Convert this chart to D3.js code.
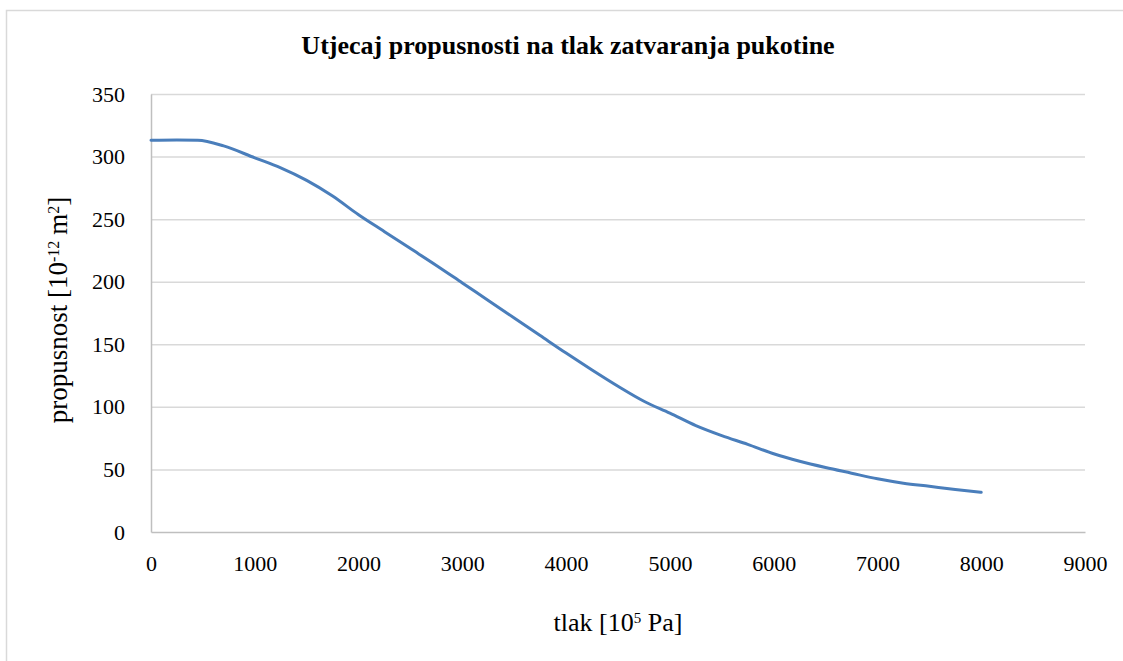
<!DOCTYPE html>
<html>
<head>
<meta charset="utf-8">
<script src="https://cdn.jsdelivr.net/npm/d3@7"></script>
<style>
  body { margin: 0; background: #fff; }
  text { font-family: "Liberation Serif", "Times New Roman", serif; fill: #000; }
</style>
</head>
<body>
<div id="container"></div>
<script>
/* CONSTANTS AND GLOBALS */
const width = 1123,
  height = 661,
  margin = { top: 94, bottom: 129, left: 151, right: 38 };

// tlak [10^5 Pa]
const pressure = [0, 250, 450, 700, 1000, 1250, 1500, 1750, 2000, 2250, 2500, 2750,
  3000, 3250, 3500, 3750, 4000, 4250, 4500, 4750, 5000, 5250, 5500, 5750,
  6000, 6250, 6500, 6750, 7000, 7250, 7500, 7750, 8000];
// propusnost [10^-12 m^2]
const permeability = [313, 313.2, 313, 308.5, 299, 291, 281, 268.5, 253.5, 240, 226.5, 213,
  199, 185, 171, 157, 143, 129.5, 116.5, 104.5, 95, 85, 77, 70,
  62.5, 56.5, 51.5, 47, 42.5, 39, 36.5, 34, 31.7];

const xTicks = [0, 1000, 2000, 3000, 4000, 5000, 6000, 7000, 8000, 9000];
const yTicks = [0, 50, 100, 150, 200, 250, 300, 350];

const data = pressure.map((p, i) => ({ x: p, y: permeability[i] }));

// APPEND SVG
const svg = d3.select("#container")
  .append("svg")
  .attr("width", width)
  .attr("height", height);

// outer chart frame
svg.append("rect")
  .attr("x", 6.5)
  .attr("y", 10.5)
  .attr("width", 1140)
  .attr("height", 700)
  .attr("fill", "none")
  .attr("stroke", "#d9d9d9")
  .attr("stroke-width", 1.5);

// SCALES
const xScale = d3.scaleLinear()
  .domain([0, 9000])
  .range([margin.left, width - margin.right]);

const yScale = d3.scaleLinear()
  .domain([0, 350])
  .range([height - margin.bottom, margin.top]);

// gridlines
svg.append("g")
  .attr("class", "grid")
  .attr("transform", `translate(${margin.left},0)`)
  .call(d3.axisLeft(yScale).tickValues(yTicks.filter(d => d > 0))
    .tickSize(-(width - margin.left - margin.right)).tickFormat(""))
  .call(g => g.select(".domain").remove())
  .call(g => g.selectAll("line").attr("stroke", "#d9d9d9").attr("stroke-width", 1.5));

// Y AXIS
svg.append("g")
  .attr("transform", `translate(${margin.left},0)`)
  .call(d3.axisLeft(yScale).tickValues(yTicks).tickSize(0).tickPadding(26))
  .call(g => g.select(".domain").attr("stroke", "#bfbfbf").attr("stroke-width", 1.5))
  .call(g => g.selectAll("text").attr("font-size", 22).attr("font-family", "Liberation Serif"));

// X AXIS
svg.append("g")
  .attr("transform", `translate(0,${height - margin.bottom})`)
  .call(d3.axisBottom(xScale).tickValues(xTicks).tickFormat(d3.format("d"))
    .tickSize(0).tickPadding(23))
  .call(g => g.select(".domain").attr("stroke", "#bfbfbf").attr("stroke-width", 1.5))
  .call(g => g.selectAll("text").attr("font-size", 22).attr("font-family", "Liberation Serif"));

// LINE
const lineGen = d3.line()
  .x(d => xScale(d.x))
  .y(d => yScale(d.y))
  .curve(d3.curveMonotoneX);

svg.append("path")
  .datum(data)
  .attr("d", lineGen)
  .attr("fill", "none")
  .attr("stroke", "#4a7ebb")
  .attr("stroke-width", 3)
  .attr("stroke-linecap", "round");

// TITLE
svg.append("text")
  .attr("x", 568)
  .attr("y", 54)
  .attr("text-anchor", "middle")
  .attr("font-size", 26)
  .attr("font-weight", "bold")
  .text("Utjecaj propusnosti na tlak zatvaranja pukotine");

// X AXIS TITLE
const xTitle = svg.append("text")
  .attr("x", 618)
  .attr("y", 631)
  .attr("text-anchor", "middle")
  .attr("font-size", 26);
xTitle.append("tspan").text("tlak [10");
xTitle.append("tspan").attr("font-size", 15).attr("baseline-shift", "super").text("5");
xTitle.append("tspan").text(" Pa]");

// Y AXIS TITLE
const yTitle = svg.append("text")
  .attr("transform", "translate(67,310) rotate(-90)")
  .attr("text-anchor", "middle")
  .attr("font-size", 27);
yTitle.append("tspan").text("propusnost [10");
yTitle.append("tspan").attr("font-size", 16).attr("baseline-shift", "super").text("-12");
yTitle.append("tspan").attr("dx", 6).text("m");
yTitle.append("tspan").attr("font-size", 16).attr("baseline-shift", "super").text("2");
yTitle.append("tspan").text("]");
</script>
</body>
</html>
